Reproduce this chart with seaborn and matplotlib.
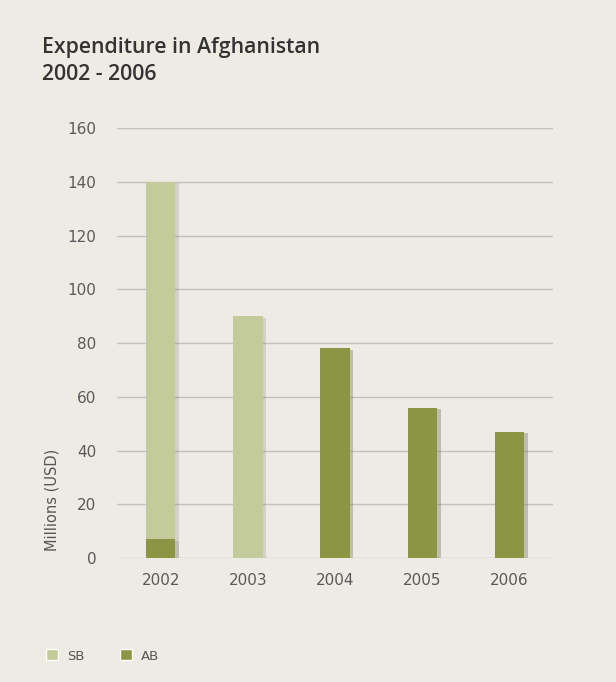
import matplotlib
matplotlib.use("Agg")
import matplotlib.pyplot as plt
import matplotlib.patheffects as pe
from matplotlib.patches import Patch
import seaborn as sns
import pandas as pd

years = ["2002", "2003", "2004", "2005", "2006"]
sb = [133, 90, 0, 0, 0]
ab = [7, 0, 78, 56, 47]
yticks = [0, 20, 40, 60, 80, 100, 120, 140, 160]

SB_COLOR = "#c3cb9a"
AB_COLOR = "#8b9543"
BG = "#eeebe5"

sns.set_theme(style="white")
plt.rcParams["font.family"] = ["DejaVu Sans"]

df = pd.DataFrame({"year": years, "SB": sb, "AB": ab})
df["total"] = df["SB"] + df["AB"]

fig = plt.figure(figsize=(6.16, 6.82), dpi=100, facecolor=BG)
ax = fig.add_axes([0.19, 0.1818, 0.708, 0.6305])
ax.set_facecolor(BG)

shadow = [pe.SimplePatchShadow(offset=(2.5, -1), shadow_rgbFace="#77756e", alpha=0.22), pe.Normal()]
sns.barplot(data=df, x="year", y="total", color=SB_COLOR, width=0.34,
            saturation=1, ax=ax, zorder=3)
sns.barplot(data=df, x="year", y="AB", color=AB_COLOR, width=0.34,
            saturation=1, ax=ax, zorder=4)
for p in ax.patches:
    p.set_path_effects(shadow)
    p.set_linewidth(0)

ax.set_ylim(0, 160)
ax.set_xlim(-0.5, 4.5)
ax.set_yticks(yticks)
ax.yaxis.grid(True, color="#c2c0ba", linewidth=1.0, zorder=0)
ax.xaxis.grid(False)
ax.set_axisbelow(True)
for s in ax.spines.values():
    s.set_visible(False)
ax.tick_params(axis="both", length=0, labelsize=11, colors="#5a5a5a")
ax.tick_params(axis="y", pad=15)
ax.tick_params(axis="x", pad=11)
ax.set_xlabel("")
ax.set_ylabel("")

fig.text(52 / 616, 1 - 500 / 682, "Millions (USD)", rotation=90, ha="center", va="center",
         fontsize=10.5, color="#555555")

fig.text(42 / 616, 1 - 61 / 682, "Expenditure in Afghanistan\n2002 - 2006", ha="left", va="center",
         fontsize=15.3, fontweight="semibold", color="#333333", linespacing=1.35,
         family=["Open Sans", "DejaVu Sans"])

handles = [Patch(facecolor=SB_COLOR, label="SB"), Patch(facecolor=AB_COLOR, label="AB")]
fig.legend(handles=handles, loc="center left", bbox_to_anchor=(0.055, 1 - 656 / 682),
           ncol=2, frameon=False, fontsize=9.5, handlelength=0.9, handleheight=0.9,
           columnspacing=2.7, handletextpad=0.7, labelcolor="#555555")

fig.savefig("out.png", dpi=100, facecolor=BG)
